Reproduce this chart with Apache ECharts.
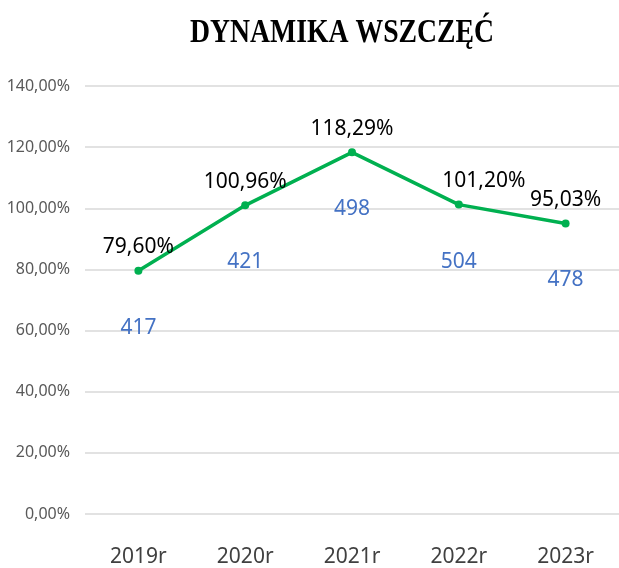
<!DOCTYPE html>
<html>
<head>
<meta charset="utf-8">
<script src="https://cdn.jsdelivr.net/npm/echarts@6/dist/echarts.min.js"></script>
<style>
  html, body { margin: 0; padding: 0; background: #fff; }
  #chart { width: 619px; height: 568px; }
</style>
</head>
<body>
<div id="chart"></div>
<script>
const years = ['2019r', '2020r', '2021r', '2022r', '2023r'];
const dynamics = [79.60, 100.96, 118.29, 101.20, 95.03]; // %
const cases = [417, 421, 498, 504, 478];

const FONT = '"Noto Sans", sans-serif';
const pct = v => v.toFixed(2).replace('.', ',') + '%';

const chart = echarts.init(document.getElementById('chart'));

chart.setOption({
  animation: false,
  graphic: [{
    type: 'text',
    x: 342,
    y: 33,
    scaleX: 0.84,
    style: {
      text: 'DYNAMIKA WSZCZĘĆ',
      font: 'bold 33px "Liberation Serif", "DejaVu Serif", serif',
      fill: '#000',
      align: 'center',
      verticalAlign: 'middle'
    }
  }],
  grid: { left: 85, right: -3, top: 86, bottom: 54, containLabel: false },
  xAxis: {
    type: 'category',
    data: years,
    boundaryGap: true,
    axisLine: { show: false },
    axisTick: { show: false },
    axisLabel: { fontSize: 21, color: '#404040', fontFamily: FONT, margin: 33 }
  },
  yAxis: {
    type: 'value',
    min: 0,
    max: 140,
    interval: 20,
    axisLine: { show: false },
    axisTick: { show: false },
    axisLabel: { fontSize: 16, color: '#595959', fontFamily: FONT, margin: 15, formatter: v => pct(v) },
    splitLine: { lineStyle: { color: '#d9d9d9', width: 1.5 } }
  },
  series: [
    {
      name: 'Dynamika',
      type: 'line',
      data: dynamics.map((v, i) => i === 3 ? { value: v, label: { offset: [25, 0] } } : v),
      symbol: 'circle',
      symbolSize: 8,
      lineStyle: { color: '#00b050', width: 3.5 },
      itemStyle: { color: '#00b050' },
      label: {
        show: true,
        position: 'top',
        distance: 9,
        fontSize: 21,
        color: '#000',
        fontFamily: FONT,
        formatter: p => pct(p.value)
      },
      z: 3
    },
    {
      name: 'Wszczęcia',
      type: 'line',
      data: dynamics,
      symbol: 'circle',
      symbolSize: 1,
      itemStyle: { color: 'rgba(0,0,0,0)' },
      lineStyle: { width: 0, opacity: 0 },
      label: {
        show: true,
        position: 'bottom',
        distance: 46,
        fontSize: 21,
        color: '#4472c4',
        fontFamily: FONT,
        formatter: p => String(cases[p.dataIndex])
      },
      silent: true,
      z: 2
    }
  ]
});
</script>
</body>
</html>
